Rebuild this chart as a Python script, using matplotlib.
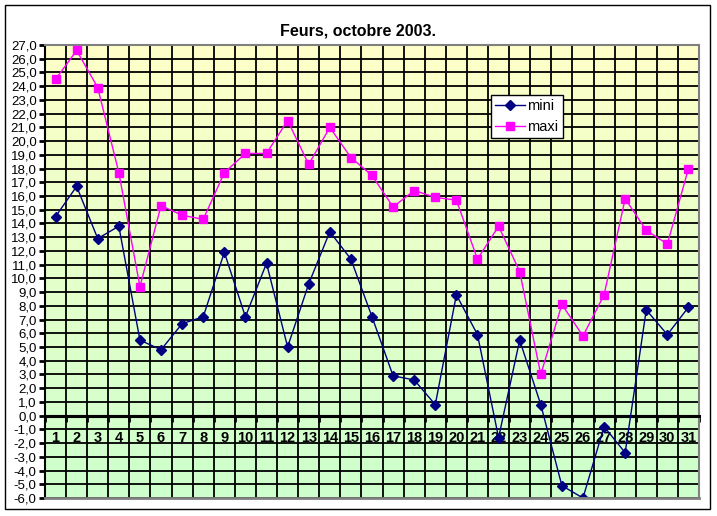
import numpy as np
import matplotlib
matplotlib.use('Agg')
import matplotlib.pyplot as plt
from matplotlib.ticker import FuncFormatter, MultipleLocator
from matplotlib.patches import Rectangle

plt.rcParams['font.family'] = ['Liberation Sans', 'DejaVu Sans']

days = list(range(1, 32))
mini = [14.5, 16.7, 12.9, 13.8, 5.5, 4.8, 6.7, 7.2, 11.9, 7.2,
        11.1, 5.0, 9.6, 13.4, 11.4, 7.2, 2.9, 2.6, 0.8, 8.8,
        5.9, -1.6, 5.5, 0.8, -5.1, -6.0, -0.8, -2.7, 7.7, 5.9, 7.9]
maxi = [24.5, 26.6, 23.9, 17.7, 9.4, 15.3, 14.6, 14.3, 17.7, 19.1,
        19.1, 21.5, 18.3, 21.0, 18.8, 17.5, 15.2, 16.4, 15.9, 15.7,
        11.4, 13.8, 10.5, 3.0, 8.1, 5.8, 8.8, 15.8, 13.5, 12.5, 18.0]
title = "Feurs, octobre 2003."
y_min, y_max = -6, 27

fig = plt.figure(figsize=(7.17, 5.16), dpi=100)
W, H = 717, 516
ax = fig.add_axes([45 / W, 1 - 498 / H, 654 / W, 453 / H])

# outer frame of the chart
fig.patches.append(Rectangle((5 / W, 1 - 509 / H), 705 / W, 504 / H,
                             transform=fig.transFigure, fill=False,
                             edgecolor='black', linewidth=1))

# yellow -> green background
top = np.array([255, 255, 200]) / 255
bot = np.array([204, 255, 204]) / 255
t = np.linspace(0, 1, 256)[:, None]
grad = (top * (1 - t) + bot * t)[:, None, :]
ax.imshow(grad, extent=[0.5, 31.5, y_min, y_max], aspect='auto', zorder=0)

ax.set_xlim(0.5, 31.5)
ax.set_ylim(y_min, y_max)

# grid
for v in range(y_min, y_max + 1):
    ax.axhline(v, color='black', lw=1.3, zorder=1)
for d in range(len(days) + 1):
    ax.axvline(d + 0.5, color='black', lw=1.3, zorder=1)
ax.axhline(0, color='black', lw=2.2, zorder=2)

ax.plot(days, mini, color='#000080', lw=1, marker='D', ms=5,
        mec='#000080', mfc='#000080', label='mini', zorder=4)
ax.plot(days, maxi, color='#FF00FF', lw=1, marker='s', ms=5.5,
        mec='#FF00FF', mfc='#FF00FF', label='maxi', zorder=4)

# y axis
ax.yaxis.set_major_locator(MultipleLocator(1))
ax.yaxis.set_major_formatter(FuncFormatter(lambda v, p: f"{v:.1f}".replace('.', ',')))
ax.tick_params(axis='y', direction='out', length=4, width=2, labelsize=9.5, pad=2)

# x axis at zero
ax.spines['bottom'].set_position(('data', 0))
ax.spines['bottom'].set_color('black')
ax.spines['bottom'].set_linewidth(2.2)
ax.set_xticks(days)
ax.set_xticklabels([str(d) for d in days], fontweight='bold', fontsize=10.5)
ax.set_xticks([d + 0.5 for d in range(len(days) + 1)], minor=True)
ax.tick_params(axis='x', which='major', length=0, pad=11)
ax.tick_params(axis='x', which='minor', direction='out', length=4, width=2)

ax.spines['left'].set_linewidth(1.5)
for s in ['top', 'right']:
    ax.spines[s].set_color('#808080')
    ax.spines[s].set_linewidth(1.5)
ax.axhline(y_min, color='#808080', lw=2, zorder=5, clip_on=False)

leg = ax.legend(loc='upper left', bbox_to_anchor=(446 / 654, 1 - 50 / 453),
                frameon=True, fancybox=False, fontsize=10.5, borderpad=0.3,
                handlelength=2.0, handletextpad=0.2, labelspacing=0.45,
                borderaxespad=0)
leg.get_frame().set_edgecolor('black')
leg.get_frame().set_linewidth(1)
leg.get_frame().set_alpha(1)

fig.text(358 / W, 1 - 31 / H, title, ha='center', va='center',
         fontsize=11.5, fontweight='bold')

fig.savefig('out.png', dpi=100)
